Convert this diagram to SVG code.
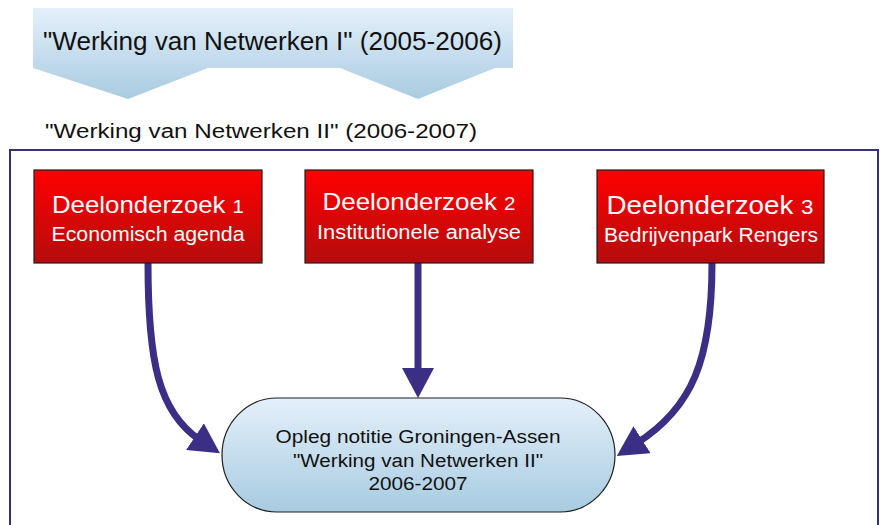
<svg xmlns="http://www.w3.org/2000/svg" width="880" height="525" viewBox="0 0 880 525">
<style>
text{font-family:"Liberation Sans",Arial,sans-serif;}
.box{stroke:#1e1e1e;stroke-width:1.2;fill:url(#red);}
.wt{fill:#ffffff;text-anchor:middle;}
.bt{fill:#111111;text-anchor:middle;font-size:18px;}
.conn{fill:none;stroke:#3a2f85;stroke-width:7;}
</style>
<defs>
<linearGradient id="red" x1="0" y1="0" x2="0" y2="1">
<stop offset="0" stop-color="#ff0000"/>
<stop offset="1" stop-color="#b50c0c"/>
</linearGradient>
<linearGradient id="blue" x1="0" y1="0" x2="0" y2="1">
<stop offset="0" stop-color="#e4f0fb"/>
<stop offset="1" stop-color="#a7cbe0"/>
</linearGradient>
<linearGradient id="banner" x1="0" y1="0" x2="0" y2="1">
<stop offset="0" stop-color="#e4f0fb"/>
<stop offset="1" stop-color="#a9cbe0"/>
</linearGradient>
<marker id="ah" markerUnits="userSpaceOnUse" viewBox="0 0 30 32" markerWidth="30" markerHeight="32" refX="6" refY="16" orient="auto">
<path d="M0,0 L30,16 L0,32 z" fill="#3a2f85"/>
</marker>
</defs>
<rect width="880" height="525" fill="#ffffff"/>

<g id="banner-top">
<path d="M33,8 H513 V68 H495 L418,99 L340,68 H208 L128,99 L33,68 Z" fill="url(#banner)"/>
<text x="43" y="50" font-size="25" textLength="459" lengthAdjust="spacingAndGlyphs" fill="#111">"Werking van Netwerken I" (2005-2006)</text>
</g>

<g id="frame">
<text x="45" y="138" font-size="20" textLength="432" lengthAdjust="spacingAndGlyphs" fill="#111">"Werking van Netwerken II" (2006-2007)</text>
<rect x="10" y="150" width="868" height="400" fill="none" stroke="#333378" stroke-width="2"/>
</g>

<g id="connectors">
<path class="conn" d="M148,263 C148,360 158,412 200,440" marker-end="url(#ah)"/>
<path class="conn" d="M418,263 L418,374" marker-end="url(#ah)"/>
<path class="conn" d="M712,263 C712,360 692,408 637,443" marker-end="url(#ah)"/>
</g>

<g id="d1">
<rect class="box" x="34" y="170" width="228" height="93"/>
<text class="wt" x="148" y="213" font-size="24" textLength="192" lengthAdjust="spacingAndGlyphs">Deelonderzoek <tspan font-size="19">1</tspan></text>
<text class="wt" x="148" y="241" font-size="20" textLength="193" lengthAdjust="spacingAndGlyphs">Economisch agenda</text>
</g>

<g id="d2">
<rect class="box" x="305" y="170" width="228" height="93"/>
<text class="wt" x="419" y="210" font-size="24" textLength="193" lengthAdjust="spacingAndGlyphs">Deelonderzoek <tspan font-size="19">2</tspan></text>
<text class="wt" x="419" y="239" font-size="20" textLength="204" lengthAdjust="spacingAndGlyphs">Institutionele analyse</text>
</g>

<g id="d3">
<rect class="box" x="597" y="170" width="227" height="93"/>
<text class="wt" x="710" y="214" font-size="25" textLength="207" lengthAdjust="spacingAndGlyphs">Deelonderzoek <tspan font-size="20">3</tspan></text>
<text class="wt" x="711" y="242" font-size="20" textLength="214" lengthAdjust="spacingAndGlyphs">Bedrijvenpark Rengers</text>
</g>

<g id="opleg">
<rect x="222" y="398" width="393" height="114" rx="55" ry="57" fill="url(#blue)" stroke="#1e1e1e" stroke-width="1.2"/>
<text class="bt" x="418" y="443" textLength="285" lengthAdjust="spacingAndGlyphs">Opleg notitie Groningen-Assen</text>
<text class="bt" x="418" y="467" textLength="250" lengthAdjust="spacingAndGlyphs">"Werking van Netwerken II"</text>
<text class="bt" x="418" y="490" textLength="99" lengthAdjust="spacingAndGlyphs">2006-2007</text>
</g>
</svg>
